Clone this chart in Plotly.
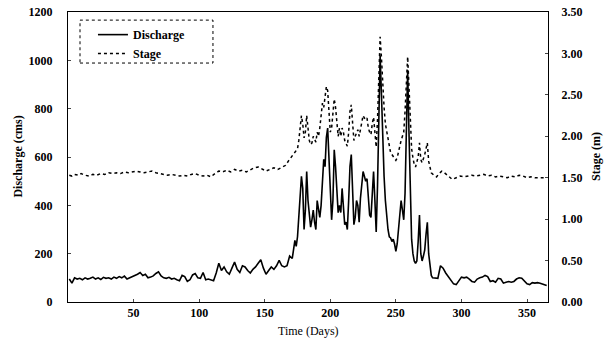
import plotly.graph_objects as go

# ---- Discharge (cms) ----
q_days = [1,3,5,7,9,11,13,15,17,19,21,23,25,27,29,31,33,35,37,39,41,43,45,47,49,51,53,55,57,59,
          61,63,65,67,69,71,73,75,77,79,81,83,85,87,89,91,93,95,97,99,101,103,105,107,109,111,113,115,117,119,
          121,123,125,127,129,131,133,135,137,139,141,143,145,147,149,151,153,155,157,159,161,163,165,167,169,171,173,174,175,177,
          178,179,180,181,182,183,184,185,186,187,188,189,190,191,192,193,194,195,196,197,198,199,200,201,202,203,204,205,206,207,
          208,209,210,211,212,213,214,215,216,217,218,219,220,221,222,223,224,225,226,227,228,229,230,231,232,233,234,235,236,237,
          238,239,240,241,242,243,244,245,246,247,248,249,250,251,252,253,254,255,256,257,258,259,260,261,262,263,264,265,266,267,
          268,269,270,271,272,273,274,275,276,277,278,280,282,284,286,288,290,292,294,296,298,300,302,304,306,308,310,312,314,316,
          318,320,322,324,326,328,330,332,334,336,338,340,342,344,346,348,350,352,354,356,358,360,362,364,365]
discharge = [95,78,100,95,98,92,100,95,98,103,95,100,93,102,98,100,95,103,98,105,100,107,95,100,105,108,115,122,110,115,
             100,103,108,118,125,108,100,98,102,95,98,92,88,110,105,85,92,112,118,100,98,122,92,95,90,88,120,160,130,145,
             125,115,140,165,135,122,150,145,130,120,135,145,160,175,140,115,130,145,135,150,172,150,145,150,190,180,255,230,270,440,
             520,470,300,380,540,420,350,310,340,380,330,300,420,380,350,400,480,590,560,680,720,600,480,340,420,630,560,450,370,400,
             370,470,400,320,330,300,420,560,610,480,320,350,420,400,330,430,480,540,520,500,510,420,360,350,480,540,420,290,480,800,
             1020,860,650,520,420,350,300,270,265,250,260,240,210,240,300,350,420,380,340,450,800,960,700,420,260,200,170,160,170,250,
             360,200,170,190,215,280,330,200,150,110,100,100,98,150,140,120,105,85,75,72,90,103,100,103,95,85,82,95,100,103,
             110,105,85,88,82,98,95,78,82,85,82,85,95,100,98,88,75,72,80,78,80,78,75,72,68]

# ---- Stage (m) ----
s_days = [1,3,5,8,10,13,16,19,22,25,28,31,34,37,40,43,46,49,52,55,58,61,64,67,70,73,76,79,82,85,
          88,91,94,97,100,103,106,109,112,115,118,121,124,127,130,133,136,139,142,145,148,151,154,157,160,163,166,168,170,172,
          174,175,176,177,178,179,180,181,182,183,184,185,186,187,188,189,190,191,192,193,194,195,196,197,198,199,200,201,202,203,
          204,205,206,207,208,209,210,211,212,213,214,215,216,217,218,219,220,221,222,223,224,225,226,227,228,229,230,231,232,233,
          234,235,236,237,238,239,240,241,242,243,244,245,246,247,248,249,250,251,252,253,254,255,256,257,258,259,260,261,262,263,
          264,265,266,267,268,269,270,271,272,273,274,275,276,277,279,281,283,285,287,289,291,293,296,299,302,305,308,311,314,317,
          320,323,326,329,332,335,338,341,344,347,350,353,356,359,362,365]
stage = [1.53,1.52,1.54,1.53,1.55,1.53,1.52,1.54,1.53,1.55,1.54,1.56,1.55,1.56,1.55,1.57,1.56,1.57,1.58,1.57,1.56,1.57,1.58,1.56,1.55,1.54,1.53,1.54,1.53,1.52,
         1.53,1.52,1.54,1.55,1.53,1.52,1.53,1.51,1.55,1.58,1.57,1.59,1.57,1.60,1.58,1.59,1.57,1.60,1.62,1.63,1.60,1.58,1.60,1.62,1.60,1.63,1.65,1.70,1.74,1.78,
         1.82,1.85,1.95,2.10,2.25,2.15,1.98,2.05,2.25,2.10,1.95,1.90,1.92,2.00,1.95,1.93,2.05,2.00,2.10,2.30,2.40,2.35,2.50,2.60,2.55,2.30,2.05,2.10,2.30,2.45,
         2.35,2.15,2.00,2.10,2.00,2.10,2.05,1.95,1.90,1.88,2.05,2.30,2.38,2.15,1.95,2.00,2.05,2.08,2.00,2.10,2.20,2.25,2.22,2.20,2.22,2.10,2.05,2.02,2.15,2.23,
         2.05,1.87,2.20,2.75,3.20,2.95,2.60,2.35,2.15,2.05,1.95,1.85,1.80,1.78,1.76,1.74,1.71,1.74,1.82,1.88,1.95,2.00,2.05,2.30,2.75,2.96,2.60,2.20,1.85,1.74,
         1.66,1.63,1.68,1.75,1.92,1.72,1.68,1.72,1.78,1.85,1.92,1.70,1.62,1.56,1.53,1.51,1.55,1.58,1.56,1.53,1.50,1.48,1.50,1.52,1.51,1.52,1.53,1.52,1.53,1.54,
         1.52,1.53,1.51,1.52,1.51,1.50,1.52,1.51,1.53,1.52,1.50,1.51,1.50,1.50,1.50,1.50]

x_ticks = [50, 100, 150, 200, 250, 300, 350]
q_ticks = [0, 200, 400, 600, 800, 1000, 1200]
s_ticks = [0.0, 0.5, 1.0, 1.5, 2.0, 2.5, 3.0, 3.5]

FONT = "Liberation Serif"
TICKFONT = dict(family=FONT, size=12, color="black", weight="bold")

fig = go.Figure()
fig.add_trace(go.Scatter(x=q_days, y=discharge, name="Discharge", mode="lines",
                         line=dict(color="black", width=1.6)))
fig.add_trace(go.Scatter(x=s_days, y=stage, name="Stage", mode="lines", yaxis="y2",
                         line=dict(color="black", width=1.5, dash="3px,3px")))

fig.update_layout(
    width=605, height=355,
    margin=dict(l=68, r=57, t=12, b=53, autoexpand=False),
    paper_bgcolor="white", plot_bgcolor="white",
    font=dict(family=FONT, size=12, color="black"),
    showlegend=True,
    legend=dict(x=0.052, y=0.972, xanchor="left", yanchor="top",
                bgcolor="rgba(0,0,0,0)", borderwidth=0,
                font=dict(family=FONT, size=12, color="black", weight="bold"),
                itemwidth=30, tracegroupgap=0),
    xaxis=dict(range=[0, 366], tickvals=x_ticks, ticks="inside", ticklen=3,
               showline=True, linecolor="black", linewidth=1, mirror=True,
               showgrid=False, zeroline=False, automargin=False,
               tickfont=TICKFONT),
    yaxis=dict(range=[0, 1200], tickvals=q_ticks, ticks="inside", ticklen=3,
               showline=True, linecolor="black", linewidth=1,
               showgrid=False, zeroline=False, ticklabelstandoff=12, automargin=False,
               tickfont=TICKFONT),
    yaxis2=dict(range=[0, 3.5], tickvals=s_ticks, tickformat=".2f", overlaying="y", side="right",
                ticks="inside", ticklen=3,
                showline=True, linecolor="black", linewidth=1,
                showgrid=False, zeroline=False, ticklabelstandoff=10, automargin=False,
                tickfont=TICKFONT),
)

fig.add_shape(type="rect", xref="paper", yref="paper",
              x0=0.025, x1=0.302, y0=0.824, y1=0.972,
              line=dict(color="black", width=1, dash="dot"))

# axis titles
fig.add_annotation(text="Time (Days)", xref="paper", yref="paper", x=0.5, y=-0.07,
                   xanchor="center", yanchor="top", showarrow=False,
                   font=dict(family=FONT, size=12, color="black"))
fig.add_annotation(text="Discharge (cms)", xref="paper", yref="paper", x=-0.105, y=0.5,
                   xanchor="center", yanchor="middle", showarrow=False, textangle=-90,
                   font=dict(family=FONT, size=12, color="black", weight="bold"))
fig.add_annotation(text="Stage (m)", xref="paper", yref="paper", x=1.1, y=0.5,
                   xanchor="center", yanchor="middle", showarrow=False, textangle=-90,
                   font=dict(family=FONT, size=12, color="black", weight="bold"))

fig.write_html("out.html", config={"displayModeBar": False},
               post_script="document.body.style.margin='0';")
